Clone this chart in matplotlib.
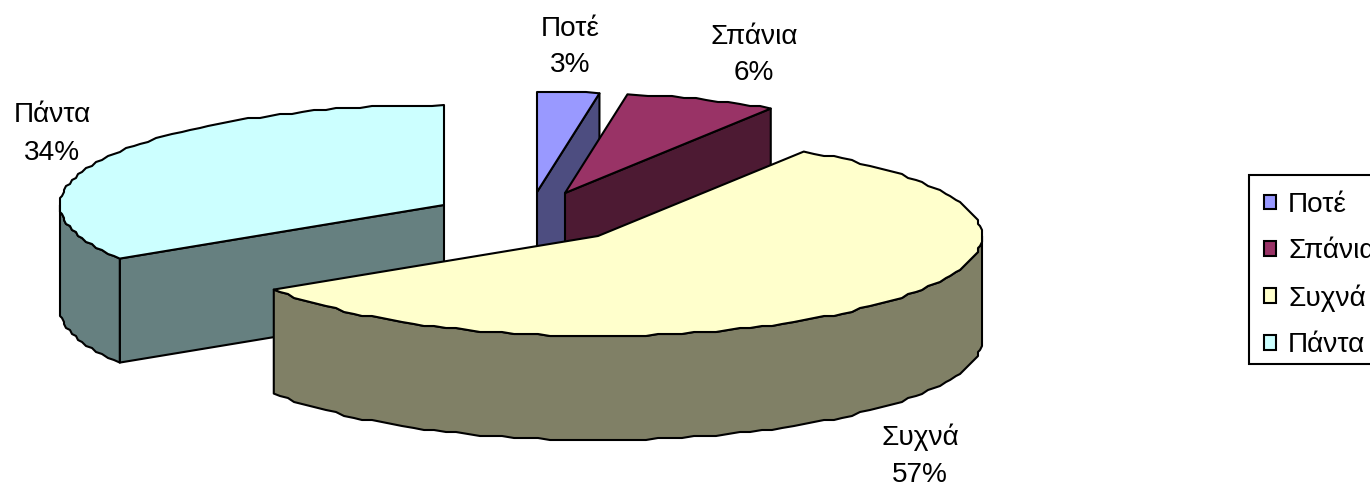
from matplotlib import pyplot as plt
from matplotlib.patches import Polygon, Patch, Rectangle
import numpy as np

plt.rcParams['font.family'] = ['Liberation Sans', 'DejaVu Sans']

# Data
categories = ['Ποτέ', 'Σπάνια', 'Συχνά', 'Πάντα']
shares = [2.6, 6.4, 57.0, 34.0]

# Slice styling and placement (pixels), one entry per category
top_colors = ['#9999FF', '#993366', '#FFFFCC', '#CCFFFF']
wall_colors = ['#4D4D80', '#4D1A33', '#808066', '#668080']
apex_x = [537, 565, 598, 444]
apex_y = [192, 193, 236, 205]
label_x = [570, 754, 920, 52]
label_y = [47, 55, 456, 134]
draw_order = [0, 1, 3, 2]

RX = 384
RY = 100
DEPTH = 104
FONT = 20.2
STEP = 1.8


def rim(cx, cy, a0, a1):
    # points on the ellipse, angles in degrees clockwise from the top
    grid = np.arange(np.ceil(a0 / STEP) + 1, np.floor(a1 / STEP)) * STEP
    t = np.radians(grid)
    # the original outline is stepped, not smooth
    x = np.round((cx + RX * np.sin(t)) / 2) * 2
    y = np.round((cy - RY * np.cos(t)) / 2) * 2
    e = np.radians([a0, a1])
    x = np.concatenate([[cx + RX * np.sin(e[0])], x, [cx + RX * np.sin(e[1])]])
    y = np.concatenate([[cy - RY * np.cos(e[0])], y, [cy - RY * np.cos(e[1])]])
    return np.column_stack([x, y])


def poly(ax, pts, color):
    ax.add_patch(Polygon(pts, closed=True, facecolor=color, edgecolor='black',
                         linewidth=1.5, joinstyle='round'))


fig = plt.figure(figsize=(13.7, 4.88), dpi=100)
ax = fig.add_axes([0, 0, 1, 1])
ax.set_xlim(0, 1370)
ax.set_ylim(488, 0)
ax.axis('off')

ends = np.cumsum(shares) / np.sum(shares) * 360
starts = np.concatenate([[0], ends[:-1]])

for i in draw_order:
    a0, a1 = starts[i], ends[i]
    cx, cy = apex_x[i], apex_y[i]
    down = np.array([0, DEPTH])
    apex = np.array([cx, cy])

    # cut faces that look towards the viewer
    for a, visible in [(a1, np.sin(np.radians(a1)) > 1e-6),
                       (a0, np.sin(np.radians(a0)) < -1e-6)]:
        if visible:
            p = apex + [RX * np.sin(np.radians(a)), -RY * np.cos(np.radians(a))]
            poly(ax, [apex, p, p + down, apex + down], wall_colors[i])

    # outer wall, only the front half of the rim
    w0, w1 = max(a0, 90), min(a1, 270)
    if w1 > w0:
        edge = rim(cx, cy, w0, w1)
        poly(ax, np.vstack([edge, edge[::-1] + down]), wall_colors[i])

    # top surface
    poly(ax, np.vstack([apex, rim(cx, cy, a0, a1)]), top_colors[i])

for i, name in enumerate(categories):
    ax.text(label_x[i], label_y[i], f'{name}\n{shares[i]:.0f}%', fontsize=FONT,
            ha='center', va='center', linespacing=1.55, color='black')

# legend box runs past the right edge of the picture, as in the original
ax.add_patch(Rectangle((1249, 175), 200, 189, facecolor='white', edgecolor='black',
                       linewidth=1.5))
handles = [Patch(facecolor=c, edgecolor='black', linewidth=1.5) for c in top_colors]
ax.legend(handles, categories, loc='upper left', bbox_to_anchor=(1264, 192),
          bbox_transform=ax.transData, borderaxespad=0, borderpad=0, fontsize=FONT,
          frameon=False, handlelength=0.44, handleheight=0.44, handletextpad=0.42,
          labelspacing=0.72)

fig.savefig('out.png', dpi=100)
